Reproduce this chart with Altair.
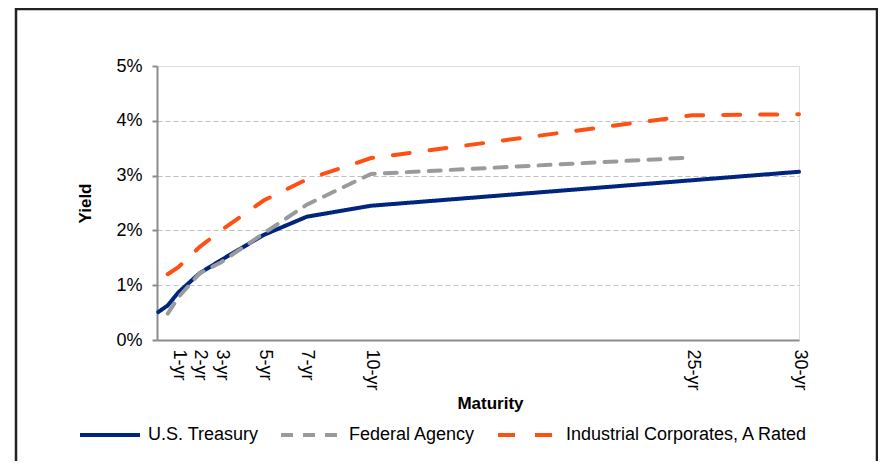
import altair as alt
import pandas as pd

series_names = ["U.S. Treasury", "Federal Agency", "Industrial Corporates, A Rated"]
series_colors = ["#00257F", "#989B9E", "#FF5014"]

treasury_maturity = [0.06, 0.5, 1, 2, 3, 5, 7, 10, 30]
treasury_yield = [0.51, 0.63, 0.87, 1.22, 1.46, 1.92, 2.25, 2.45, 3.07]

agency_maturity = [0.5, 1, 2, 3, 5, 7, 10, 25]
agency_yield = [0.48, 0.78, 1.22, 1.42, 1.95, 2.47, 3.03, 3.33]

corp_maturity = [0.5, 1, 2, 3, 5, 7, 10, 25, 30]
corp_yield = [1.20, 1.33, 1.70, 2.00, 2.55, 2.93, 3.32, 4.10, 4.12]

tick_years = [1, 2, 3, 5, 7, 10, 25, 30]
yield_ticks = [0, 1, 2, 3, 4, 5]

rows = []
for name, xs, ys in zip(series_names,
                        [treasury_maturity, agency_maturity, corp_maturity],
                        [treasury_yield, agency_yield, corp_yield]):
    for i, (m, v) in enumerate(zip(xs, ys)):
        rows.append({"series": name, "maturity": m, "yield": v, "idx": i})
df = pd.DataFrame(rows)

FONT = "Liberation Sans"

legend_cfg = dict(orient="none", legendX=-79, legendY=337,
                  direction="horizontal", title=None,
                  symbolType="stroke", symbolSize=3600,
                  symbolStrokeWidth=4, labelFont=FONT,
                  labelFontSize=18, labelColor="#000000",
                  labelOffset=6, columnPadding=14, labelLimit=400)

lines = alt.Chart(df).mark_line(strokeWidth=4, strokeCap="round").encode(
    x=alt.X("maturity:Q",
            scale=alt.Scale(domain=[0, 30], nice=False, zero=True),
            axis=alt.Axis(values=tick_years, labelExpr="datum.value + '-yr'",
                          labelAngle=90, labelFontSize=18, labelFont=FONT,
                          labelColor="#000000", labelPadding=9,
                          ticks=False, grid=False,
                          domainColor="#8C8C8C", domainWidth=2,
                          title="Maturity", titleFont=FONT, titleFontSize=17,
                          titleFontWeight="bold", titleColor="#000000",
                          titleX=333, titleY=63, titleBaseline="middle")),
    y=alt.Y("yield:Q",
            scale=alt.Scale(domain=[0, 5], nice=False),
            axis=alt.Axis(values=yield_ticks, labelExpr="datum.value + '%'",
                          labelFontSize=18, labelFont=FONT, labelColor="#000000",
                          labelPadding=10, tickSize=5, tickColor="#8C8C8C",
                          tickWidth=2,
                          domainColor="#8C8C8C", domainWidth=2,
                          grid=True, gridColor="#C0C0C0", gridDash=[5, 3],
                          gridWidth=1,
                          gridOpacity={"condition": {"test": "datum.value == 0 || datum.value == 5", "value": 0}, "value": 1},
                          title="Yield", titleFont=FONT, titleFontSize=17,
                          titleFontWeight="bold", titleColor="#000000",
                          titleX=-72, titleY=137, titleBaseline="middle")),
    color=alt.Color("series:N",
                    scale=alt.Scale(domain=series_names, range=series_colors),
                    legend=alt.Legend(**legend_cfg)),
    strokeDash=alt.StrokeDash("series:N",
                              scale=alt.Scale(domain=series_names,
                                              range=[[1, 0], [12, 10], [17, 20]]),
                              legend=alt.Legend(**legend_cfg)),
    order="idx:Q",
    detail="series:N",
)

frame = alt.Chart(pd.DataFrame({"a": [0]})).mark_rect(
    fillOpacity=0, stroke="#222222", strokeWidth=2.5
).encode(
    x=alt.value(-141), x2=alt.value(720), y=alt.value(-57), y2=alt.value(460)
)

chart = alt.layer(lines, frame).properties(
    width=642, height=274,
    autosize=alt.AutoSizeParams(type="none"),
    padding={"left": 149, "top": 58, "right": 79, "bottom": 121},
).configure_view(
    stroke="#8C8C8C", strokeWidth=2
).configure(background="white")

chart.save("out.html", embed_options={"renderer": "svg", "actions": False})
